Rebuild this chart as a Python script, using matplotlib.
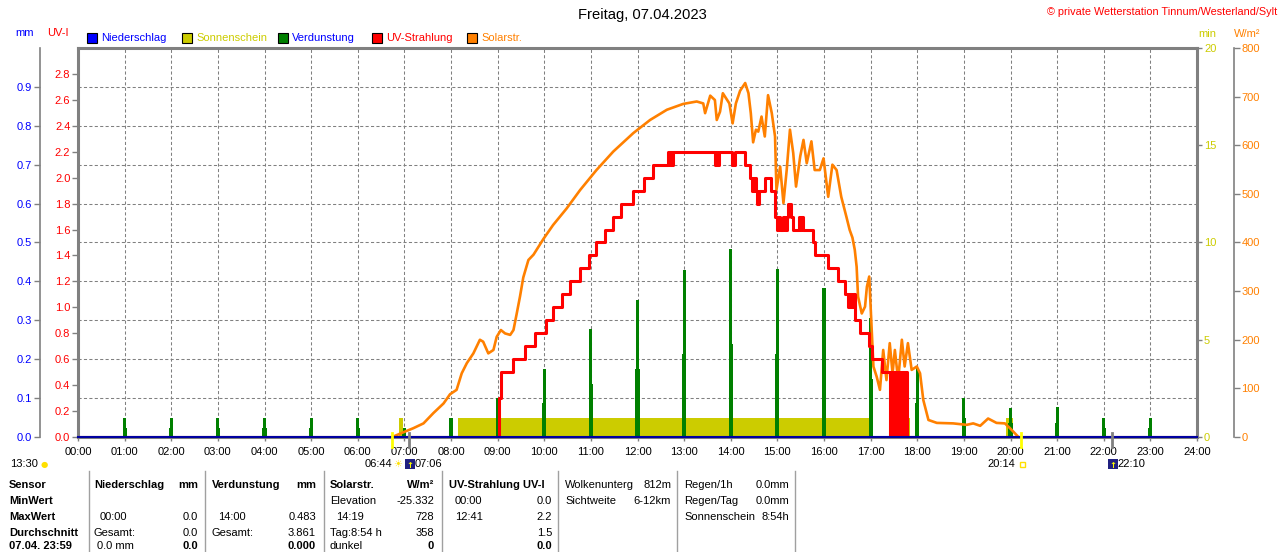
import matplotlib
matplotlib.use('Agg')
import matplotlib.pyplot as plt
import matplotlib.transforms as mtransforms
from matplotlib import font_manager
from matplotlib.patches import Rectangle

W, H = 1280, 552

# --- data ---------------------------------------------------------------
hours = list(range(25))
hour_labels = ['%02d:00' % h for h in hours]

mm_ticks = [0.0, 0.1, 0.2, 0.3, 0.4, 0.5, 0.6, 0.7, 0.8, 0.9]
uv_ticks = [0.0, 0.2, 0.4, 0.6, 0.8, 1.0, 1.2, 1.4, 1.6, 1.8, 2.0, 2.2, 2.4, 2.6, 2.8]
min_ticks = [0, 5, 10, 15, 20]
wm2_ticks = [0, 100, 200, 300, 400, 500, 600, 700, 800]

# Solarstrahlung (W/m2), Zeit in Stunden
solar_t = [6.74, 7.01, 7.19, 7.41, 7.62, 7.84, 7.98, 8.12, 8.23, 8.34, 8.48, 8.62, 8.69,
           8.80, 8.91, 8.98, 9.07, 9.16, 9.27, 9.34, 9.41, 9.48, 9.55, 9.66, 9.77, 9.98,
           10.19, 10.48, 10.77, 11.12, 11.48, 11.91, 12.27, 12.63, 12.98, 13.27, 13.41,
           13.45, 13.56, 13.66, 13.70, 13.77, 13.83, 13.91, 13.97, 14.04, 14.11, 14.20,
           14.31, 14.38, 14.43, 14.48, 14.54, 14.59, 14.66, 14.73, 14.80, 14.88, 14.95,
           14.98, 15.06, 15.13, 15.20, 15.27, 15.34, 15.40, 15.49, 15.56, 15.63, 15.73,
           15.80, 15.91, 15.99, 16.09, 16.18, 16.27, 16.37, 16.48, 16.55, 16.61, 16.66,
           16.70, 16.73, 16.81, 16.88, 16.92, 16.97, 17.00, 17.06, 17.13, 17.20, 17.27,
           17.34, 17.41, 17.47, 17.52, 17.59, 17.67, 17.73, 17.80, 17.88, 17.99, 18.06,
           18.13, 18.24, 18.42, 18.77, 19.06, 19.20, 19.35, 19.52, 19.70, 19.88, 19.99,
           20.17]
solar_w = [0, 11, 18, 28, 49, 69, 88, 97, 131, 152, 172, 200, 196,
           172, 179, 206, 220, 213, 210, 220, 254, 289, 328, 364, 375, 407,
           436, 470, 508, 549, 587, 625, 652, 673, 685, 690, 686,
           666, 702, 693, 652, 669, 707, 695, 686, 645, 686, 712,
           728, 707, 666, 606, 632, 628, 659, 618, 703, 666, 618,
           508, 556, 481, 549, 632, 584, 515, 577, 611, 563, 608,
           549, 549, 573, 494, 560, 549, 494, 453, 426, 410, 385,
           350, 289, 254, 268, 309, 330, 268, 145, 124, 97, 179,
           117, 193, 131, 179, 117, 200, 145, 193, 138, 145, 131,
           76, 35, 29, 28, 25, 28, 23, 38, 29, 28, 18,
           0]

# UV-Index (Stufen)
uv_t = [0.00, 9.04, 9.08, 9.34, 9.59, 9.80, 10.03, 10.19, 10.39, 10.55, 10.77, 10.95,
        11.12, 11.30, 11.48, 11.64, 11.90, 12.13, 12.34, 12.66, 12.70, 12.72, 12.74,
        12.76, 13.66, 13.69, 13.71, 13.75, 14.02, 14.09, 14.31, 14.41, 14.45, 14.47,
        14.49, 14.51, 14.55, 14.57, 14.61, 14.73, 14.86, 14.95, 14.99, 15.02, 15.05,
        15.12, 15.16, 15.21, 15.23, 15.30, 15.34, 15.46, 15.49, 15.51, 15.54, 15.77,
        15.81, 16.09, 16.31, 16.45, 16.52, 16.55, 16.58, 16.62, 16.66, 16.77, 16.97,
        17.04, 17.24, 17.42, 17.44, 17.46, 17.48, 17.50, 17.52, 17.55, 17.56, 17.60,
        17.61, 17.66, 17.67, 17.72, 17.73, 17.77, 24.00]
uv_v = [0.0, 0.3, 0.5, 0.6, 0.7, 0.8, 0.9, 1.0, 1.1, 1.2, 1.3, 1.4,
        1.5, 1.6, 1.7, 1.8, 1.9, 2.0, 2.1, 2.2, 2.1, 2.2, 2.1,
        2.2, 2.1, 2.2, 2.1, 2.2, 2.1, 2.2, 2.1, 2.0, 1.9, 2.0,
        1.9, 2.0, 1.9, 1.8, 1.9, 2.0, 1.9, 1.7, 1.6, 1.7, 1.6,
        1.7, 1.6, 1.7, 1.8, 1.7, 1.6, 1.7, 1.6, 1.7, 1.6, 1.5,
        1.4, 1.3, 1.2, 1.1, 1.0, 1.1, 1.0, 1.1, 0.9, 0.8, 0.7,
        0.6, 0.5, 0.0, 0.5, 0.0, 0.5, 0.0, 0.5, 0.0, 0.5, 0.0,
        0.5, 0.0, 0.5, 0.0, 0.5, 0.0, 0.0]

# Verdunstung (mm) je Stunde
evap_h = [1, 2, 3, 4, 5, 6, 7, 8, 9, 10, 11, 12, 13, 14, 15, 16, 17, 18, 19, 20, 21, 22, 23]
evap_main = [0.049, 0.049, 0.049, 0.049, 0.049, 0.049, 0.022, 0.048, 0.100, 0.175, 0.277,
             0.352, 0.429, 0.483, 0.432, 0.383, 0.305, 0.177, 0.100, 0.075, 0.077, 0.049, 0.049]
evap_sub = [0.022, 0.022, 0.022, 0.022, 0.022, 0.022, 0.011, 0.022, 0.048, 0.087, 0.136,
            0.174, 0.213, 0.239, 0.213, 0.190, 0.150, 0.087, 0.048, 0.035, 0.035, 0.022, 0.022]

# Sonnenschein (min)
sun_start = [6.88, 8.14, 17.76, 19.90]
sun_end = [6.98, 16.97, 17.84, 20.05]
sun_min = [1.0, 1.0, 1.0, 0.96]

# Niederschlag (mm)
rain_t = [0, 24]
rain_mm = [0.0, 0.0]

sunrise, sunset = 6.733, 20.233
moonrise, moonset = 7.10, 22.167

legend_items = ['Niederschlag', 'Sonnenschein', 'Verdunstung', 'UV-Strahlung', 'Solarstr.']

tbl_rows = ['Sensor', 'MinWert', 'MaxWert', 'Durchschnitt', '07.04. 23:59']
sec_rain = [('Niederschlag', 'mm'), ('', ''), ('00:00', '0.0'), ('Gesamt:', '0.0'), ('0.0 mm', '0.0')]
sec_evap = [('Verdunstung', 'mm'), ('', ''), ('14:00', '0.483'), ('Gesamt:', '3.861'), ('', '0.000')]
sec_solar = [('Solarstr.', 'W/m²'), ('Elevation', '-25.332'), ('14:19', '728'), ('Tag:8:54 h', '358'), ('dunkel', '0')]
sec_uv = [('UV-Strahlung UV-I', ''), ('00:00', '0.0'), ('12:41', '2.2'), ('', '1.5'), ('', '0.0')]
sec_cloud = [('Wolkenunterg', '812m'), ('Sichtweite', '6-12km')]
sec_regen = [('Regen/1h', '0.0mm'), ('Regen/Tag', '0.0mm'), ('Sonnenschein', '8:54h')]

# --- style --------------------------------------------------------------
BLUE = '#0000FF'
YEL = '#CCCC00'
GREEN = '#008000'
RED = '#FF0000'
ORANGE = '#FF8000'
GRAY = '#808080'

names = {f.name for f in font_manager.fontManager.ttflist}
if 'Liberation Sans Narrow' in names:
    FONT, S = 'Liberation Sans Narrow', 1.18
else:
    FONT, S = 'Liberation Sans', 0.97
plt.rcParams['font.family'] = [FONT, 'DejaVu Sans']
FS = 8.3 * S


def fx(x):
    return x / W


def fy(y):
    return 1 - y / H


fig = plt.figure(figsize=(W / 100, H / 100), dpi=100)
fig.patch.set_facecolor('white')

pos = [fx(78), fy(437), 1119 / W, 389 / H]
ax = fig.add_axes(pos)
ax.set_xlim(0, 24)
ax.set_ylim(0, 1.0)
ax.set_xticks(hours)
ax.set_xticklabels(hour_labels)
ax.set_yticks(mm_ticks)
ax.set_yticklabels(['%.1f' % v for v in mm_ticks])
ax.grid(True, color=GRAY, linestyle=(0, (3.0, 2.2)), linewidth=0.75)
ax.set_axisbelow(True)
for s in ['top', 'right', 'bottom']:
    ax.spines[s].set_color(GRAY)
    ax.spines[s].set_linewidth(2.2)
ax.spines['left'].set_position(('outward', 27.5))
ax.spines['left'].set_color(GRAY)
ax.spines['left'].set_linewidth(1.2)
ax.tick_params(axis='y', colors=GRAY, labelcolor=BLUE, length=4, width=1, pad=1.5, labelsize=FS)
ax.tick_params(axis='x', colors=GRAY, labelcolor='black', length=3, width=1, pad=4, labelsize=FS)


def twin(ylim):
    t = ax.twinx()
    t.set_ylim(*ylim)
    for s in t.spines.values():
        s.set_visible(False)
    t.set_yticks([])
    return t


# Sonnenschein
ax_sun = twin((0, 20))
ax_sun.bar(sun_start, sun_min, width=[e - s for s, e in zip(sun_start, sun_end)],
           align='edge', color=YEL, linewidth=0)
ax_sun.set_yticks(min_ticks)
ax_sun.set_yticklabels([str(v) for v in min_ticks])
ax_sun.tick_params(axis='y', colors=GRAY, labelcolor=YEL, length=3.5, width=1, pad=1.5, labelsize=FS)

# Verdunstung
ax_ev = twin((0, 1.0))
ax_ev.bar(evap_h, evap_sub, width=0.09, color=GREEN, linewidth=0)
ax_ev.bar(evap_h, evap_main, width=0.065, color=GREEN, linewidth=0)

# Solarstrahlung
ax_sol = twin((0, 800))
ax_sol.plot(solar_t, solar_w, color=ORANGE, linewidth=1.9)
ax_sol.spines['right'].set_visible(True)
ax_sol.spines['right'].set_position(('outward', 26.6))
ax_sol.spines['right'].set_color(GRAY)
ax_sol.spines['right'].set_linewidth(1.2)
ax_sol.set_yticks(wm2_ticks)
ax_sol.set_yticklabels([str(v) for v in wm2_ticks])
ax_sol.tick_params(axis='y', colors=GRAY, labelcolor=ORANGE, length=4, width=1, pad=1.5, labelsize=FS)

# UV-Strahlung
ax_uv = twin((0, 3.0))
ax_uv.plot(uv_t, uv_v, color=RED, linewidth=2.2, drawstyle='steps-post')
ax_uv.yaxis.tick_left()
ax_uv.spines['left'].set_visible(True)
ax_uv.spines['left'].set_color(GRAY)
ax_uv.spines['left'].set_linewidth(2.2)
ax_uv.set_yticks(uv_ticks)
ax_uv.set_yticklabels(['%.1f' % v for v in uv_ticks])
ax_uv.tick_params(axis='y', colors=GRAY, labelcolor=RED, length=4, width=1, pad=1.5, labelsize=FS)

# Niederschlag
ax_rain = twin((0, 1.0))
ax_rain.plot(rain_t, rain_mm, color='#0000A0', linewidth=1.5, clip_on=False)

# Sonnen-/Mondauf- und -untergang
blend = mtransforms.blended_transform_factory(ax_rain.transData, ax_rain.transAxes)
for t, c in [(sunrise, '#FFFF00'), (moonrise, GRAY), (sunset, '#FFFF00'), (moonset, GRAY)]:
    ax_rain.plot([t, t], [-0.025, 0.01], color=c, linewidth=2, transform=blend, clip_on=False)

tb = mtransforms.blended_transform_factory(ax.transData, fig.transFigure)
ty = fy(464)
ax.text(sunrise, ty, '06:44', transform=tb, ha='right', va='center', fontsize=FS,
        color='black')
ax.text(sunrise + 0.03, ty, '☀', transform=tb, ha='left', va='center', fontsize=7,
        color='#FFE000', family='DejaVu Sans')
ax.text(sunset - 0.13, ty, '20:14', transform=tb, ha='right', va='center', fontsize=FS,
        color='black')
fig.patches.append(Rectangle((fx(1019.5), fy(467)), 5 / W, 5 / H, transform=fig.transFigure,
                             facecolor='none', edgecolor='#FFE000', linewidth=1))
for t, lab in [(moonrise, '07:06'), (moonset, '22:10')]:
    xm = ax.transData.transform((t, 0))[0]
    fig.patches.append(Rectangle((fx(xm - 4), fy(469)), 10 / W, 10 / H,
                                 transform=fig.transFigure, facecolor='#202080',
                                 edgecolor='none'))
    fig.text(fx(xm + 1), fy(465), '↑', ha='center', va='center', fontsize=6,
             color='#FFFF00', family='DejaVu Sans', fontweight='bold')
    fig.text(fx(xm + 6), ty, lab, ha='left', va='center', fontsize=FS)
fig.text(fx(10), ty, '13:30', ha='left', va='center', fontsize=FS)
fig.text(fx(44), fy(465), '●', ha='center', va='center', fontsize=6, color='#FFE000',
         family='DejaVu Sans')

# Titel und Kopfzeile
fig.text(fx(642), fy(15), 'Freitag, 07.04.2023', ha='center', va='center', fontsize=11 * S)
fig.text(fx(1277), fy(12), '© private Wetterstation Tinnum/Westerland/Sylt', ha='right',
         va='center', fontsize=FS * 0.97, color=RED)
fig.text(fx(15), fy(33), 'mm', ha='left', va='center', fontsize=FS, color=BLUE)
fig.text(fx(47), fy(33), 'UV-I', ha='left', va='center', fontsize=FS, color=RED)
fig.text(fx(1198), fy(34), 'min', ha='left', va='center', fontsize=FS, color=YEL)
fig.text(fx(1234), fy(34), 'W/m²', ha='left', va='center', fontsize=FS, color=ORANGE)

leg_x = [87, 182, 278, 372, 467]
leg_fill = [BLUE, YEL, GREEN, RED, ORANGE]
leg_txt = [BLUE, YEL, BLUE, RED, ORANGE]
for x0, lab, fc, tc in zip(leg_x, legend_items, leg_fill, leg_txt):
    fig.patches.append(Rectangle((fx(x0), fy(43)), 10 / W, 10 / H, transform=fig.transFigure,
                                 facecolor=fc, edgecolor='black', linewidth=0.8))
    fig.text(fx(x0 + 14), fy(38), lab, ha='left', va='center', fontsize=FS, color=tc)

# Tabelle
row_y = [485, 501, 517, 533, 546]
for y, lab in zip(row_y, tbl_rows):
    fig.text(fx(9), fy(y), lab, ha='left', va='center', fontsize=FS, fontweight='bold')

sections = [(sec_rain, 94, 198, True), (sec_evap, 212, 316, True),
            (sec_solar, 330, 434, True), (sec_uv, 449, 552, True),
            (sec_cloud, 565, 671, False), (sec_regen, 684, 789, False)]
time_like = {'00:00', '14:00', '14:19', '12:41'}
for sec, xl, xr, bold in sections:
    for i, (left, right) in enumerate(sec):
        y = fy(row_y[i])
        head = bold and i == 0
        indent = 6 if left in time_like else (3 if left == '0.0 mm' else 0)
        if left:
            fig.text(fx(xl + indent), y, left, ha='left', va='center', fontsize=FS,
                     fontweight='bold' if head else 'normal')
        if right:
            rb = head or (bold and i == 4)
            fig.text(fx(xr), y, right, ha='right', va='center', fontsize=FS,
                     fontweight='bold' if rb else 'normal')

for xs in [89, 205, 324, 442, 558, 677, 795]:
    fig.add_artist(plt.Line2D([fx(xs), fx(xs)], [fy(471), 0], transform=fig.transFigure,
                              color='#A0A0A0', linewidth=1))

fig.savefig('out.png', dpi=100)
